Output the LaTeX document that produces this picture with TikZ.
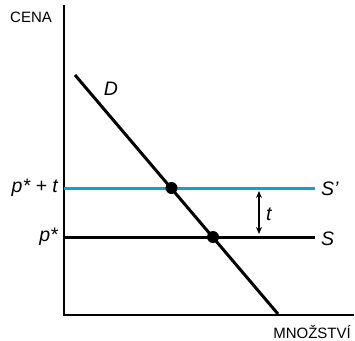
\documentclass[tikz,border=0pt]{standalone}
\usepackage{fontspec}
\setmainfont{Liberation Sans}
\usetikzlibrary{arrows.meta}
\definecolor{cyanline}{RGB}{20,160,200}
\begin{document}
\begin{tikzpicture}[x=1pt,y=-1pt,
  axis/.style={line width=2pt,black},
  curve/.style={line width=3pt,black},
  dotmark/.style={circle,fill=black,inner sep=0pt,minimum size=12pt},
  axlabel/.style={font=\fontsize{15}{17}\selectfont,inner sep=0pt},
  mathlabel/.style={font=\fontsize{19.5}{21}\selectfont\itshape,inner sep=0pt}]
\useasboundingbox (0,0) rectangle (355,340);
% axes
\coordinate (top) at (64,5);
\coordinate (origin) at (64,315);
\coordinate (right) at (354,315);
\draw[axis] (top) -- (origin) -- (right);
% supply lines
\coordinate (Spl) at (64,188);
\coordinate (Spr) at (315,188);
\coordinate (Sl) at (64,237);
\coordinate (Sr) at (315,237);
\draw[line width=3pt,cyanline] (Spl) -- (Spr);
\draw[curve] (Sl) -- (Sr);
% demand
\coordinate (Dtop) at (75,75);
\coordinate (Dbot) at (278,314);
\draw[curve] (Dtop) -- (Dbot);
% intersections
\node[dotmark] (e1) at (171.5,188) {};
\node[dotmark] (e2) at (213,237) {};
% t arrow
\coordinate (ta) at (259,191);
\coordinate (tb) at (259,234);
\draw[line width=1.2pt,{Stealth[length=7pt,width=6pt]}-{Stealth[length=7pt,width=6pt]}] (ta) -- (tb);
% labels
\node[axlabel,anchor=base west] (cena) at (10,22) {CENA};
\node[axlabel,anchor=base east] (mnoz) at (351,338) {MNOŽSTVÍ};
\node[mathlabel] (dl) at (111,89) {D};
\node[mathlabel,anchor=west] (spl) at (321,189) {S'};
\node[mathlabel,anchor=west] (sl) at (321,239) {S};
\node[mathlabel,anchor=west] (tl) at (266,214) {t};
\node[mathlabel,anchor=east] (ppt) at (58,188) {p* + t};
\node[mathlabel,anchor=east] (pp) at (58,237) {p*};
\end{tikzpicture}
\end{document}
